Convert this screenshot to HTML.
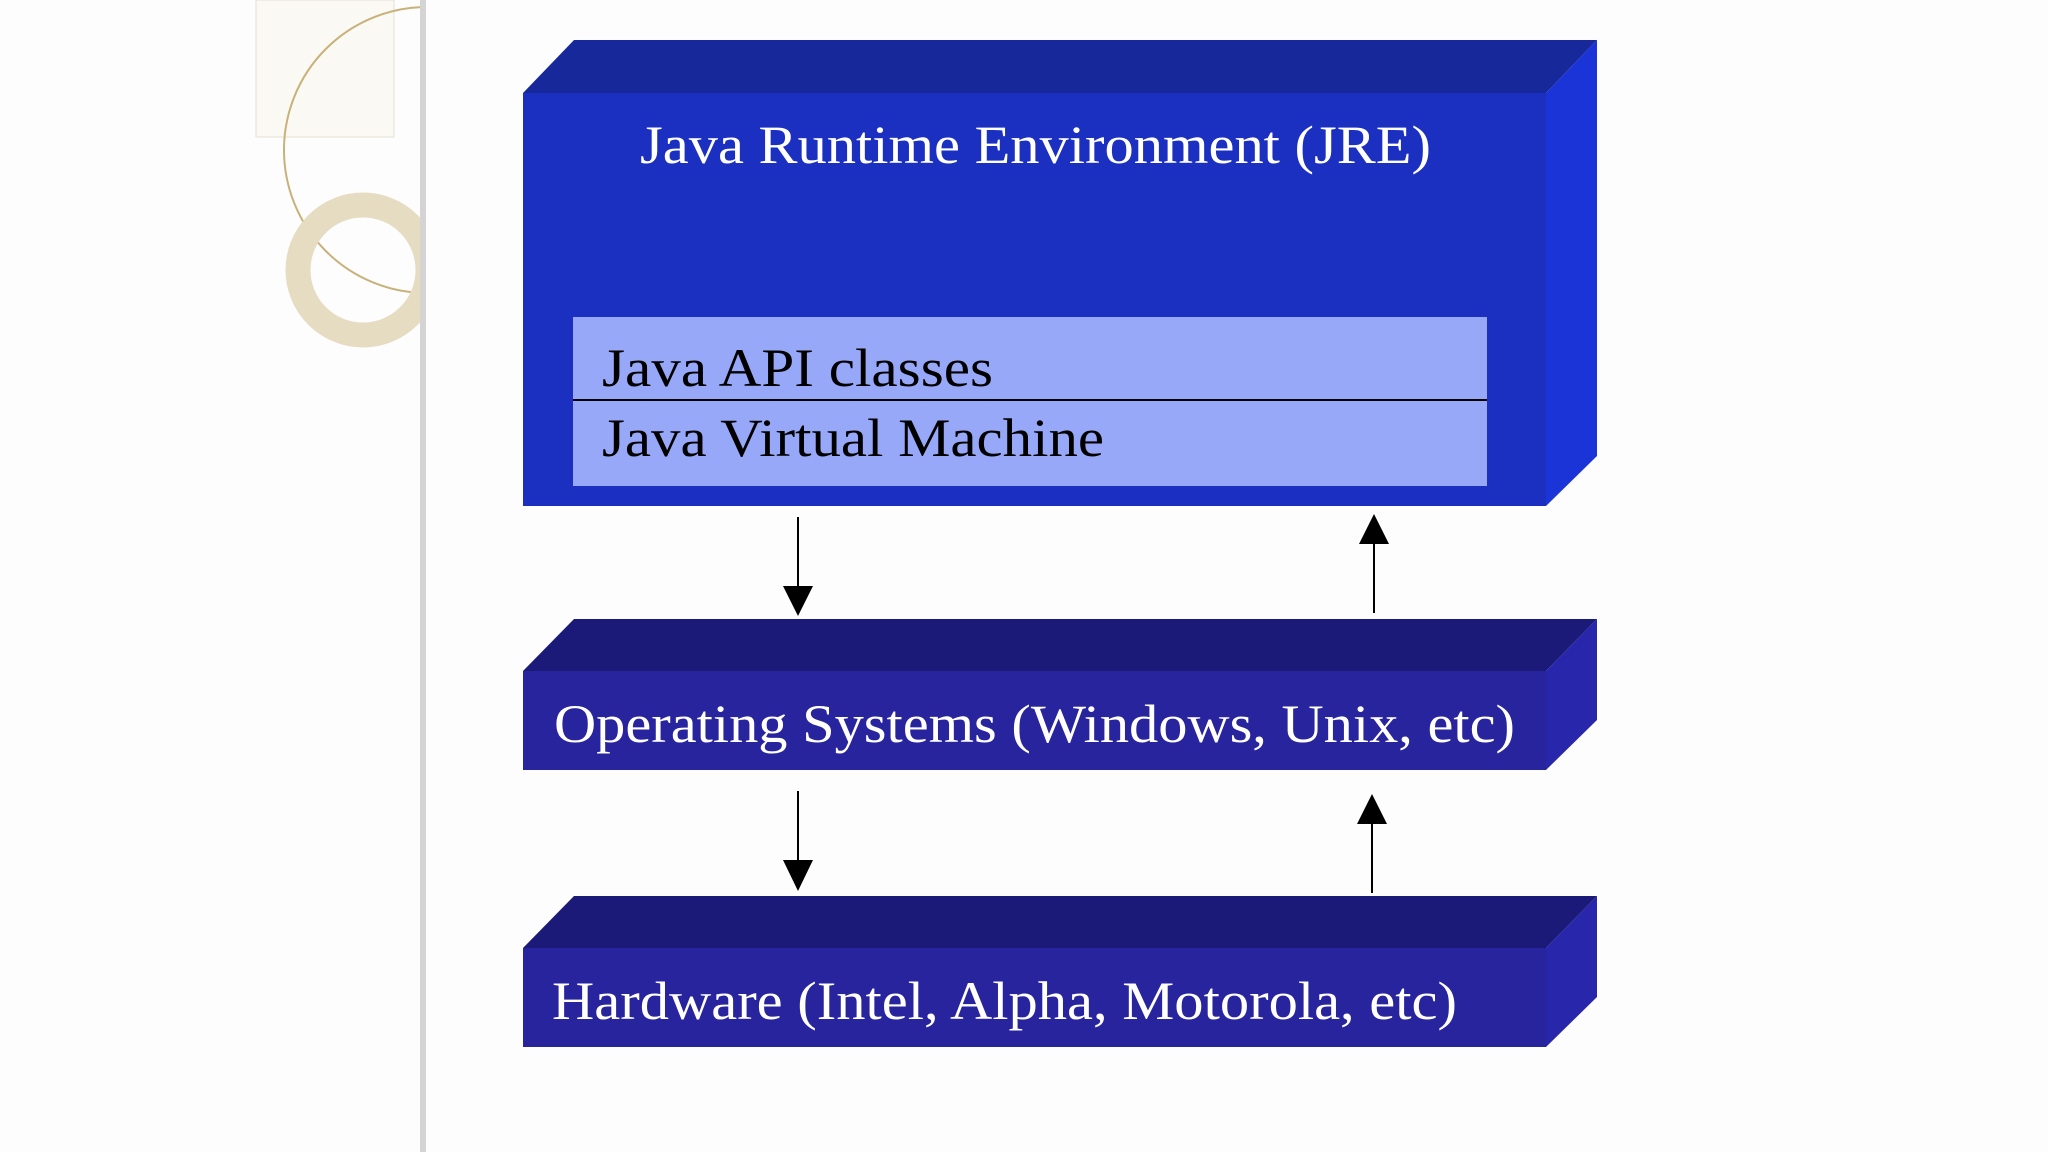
<!DOCTYPE html>
<html><head><meta charset="utf-8"><style>
html,body{margin:0;padding:0;background:#fdfdfe;}
svg{display:block;}
</style></head><body>
<svg width="2048" height="1152" viewBox="0 0 2048 1152" xmlns="http://www.w3.org/2000/svg">
<rect width="2048" height="1152" fill="#fdfdfe"/>
<defs><clipPath id="lc"><rect x="0" y="0" width="421" height="1152"/></clipPath></defs>
<g clip-path="url(#lc)">
  <rect x="256" y="0" width="138" height="137" fill="#fbf9f4" stroke="#e6e0d4" stroke-width="1"/>
  <circle cx="427" cy="150" r="143" fill="none" stroke="#c8b27a" stroke-width="2"/>
  <circle cx="363" cy="270" r="65" fill="none" stroke="#e6dcc2" stroke-width="25"/>
</g>
<rect x="420" y="0" width="6" height="1152" fill="#d4d4d4"/>

<!-- JRE -->
<polygon points="523,93 574,40 1597,40 1546,93" fill="#16289a"/>
<polygon points="1546,93 1597,40 1597,456 1546,506" fill="#1a34d8"/>
<rect x="523" y="93" width="1023" height="413" fill="#1b2fc0"/>
<text x="640" y="163" font-family="Liberation Serif, serif" font-size="54" fill="#ffffff" textLength="791" lengthAdjust="spacingAndGlyphs">Java Runtime Environment (JRE)</text>
<rect x="573" y="317" width="914" height="169" fill="#98a8f8"/>
<line x1="573" y1="400" x2="1487" y2="400" stroke="#000" stroke-width="2"/>
<text x="602" y="386" font-family="Liberation Serif, serif" font-size="54" fill="#000" textLength="391" lengthAdjust="spacingAndGlyphs">Java API classes</text>
<text x="602" y="456" font-family="Liberation Serif, serif" font-size="54" fill="#000" textLength="502" lengthAdjust="spacingAndGlyphs">Java Virtual Machine</text>

<!-- arrows 1 -->
<line x1="798" y1="517" x2="798" y2="590" stroke="#000" stroke-width="2"/>
<polygon points="783,586 813,586 798,616" fill="#000"/>
<line x1="1374" y1="540" x2="1374" y2="613" stroke="#000" stroke-width="2"/>
<polygon points="1359,544 1389,544 1374,514" fill="#000"/>

<!-- OS -->
<polygon points="523,671 574,619 1597,619 1546,671" fill="#1b1a78"/>
<polygon points="1546,671 1597,619 1597,720 1546,770" fill="#2826aa"/>
<rect x="523" y="671" width="1023" height="99" fill="#27249e"/>
<text x="554" y="742" font-family="Liberation Serif, serif" font-size="54" fill="#ffffff" textLength="961" lengthAdjust="spacingAndGlyphs">Operating Systems (Windows, Unix, etc)</text>

<!-- arrows 2 -->
<line x1="798" y1="791" x2="798" y2="864" stroke="#000" stroke-width="2"/>
<polygon points="783,860 813,860 798,891" fill="#000"/>
<line x1="1372" y1="820" x2="1372" y2="893" stroke="#000" stroke-width="2"/>
<polygon points="1357,824 1387,824 1372,794" fill="#000"/>

<!-- HW -->
<polygon points="523,948 574,896 1597,896 1546,948" fill="#1b1a78"/>
<polygon points="1546,948 1597,896 1597,997 1546,1047" fill="#2826aa"/>
<rect x="523" y="948" width="1023" height="99" fill="#27249e"/>
<text x="552" y="1019" font-family="Liberation Serif, serif" font-size="54" fill="#ffffff" textLength="905" lengthAdjust="spacingAndGlyphs">Hardware (Intel, Alpha, Motorola, etc)</text>
</svg>
</body></html>
